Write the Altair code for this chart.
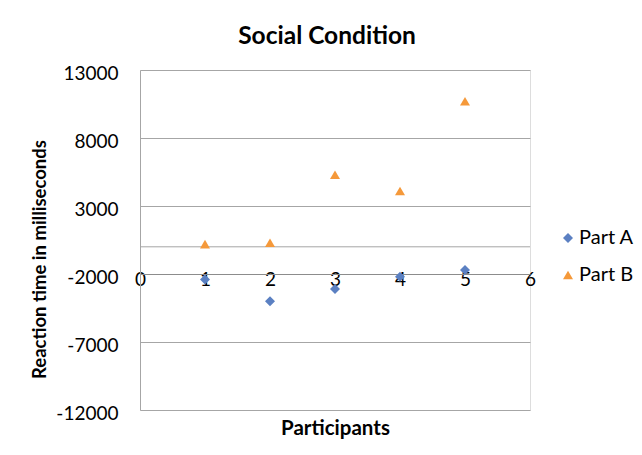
import altair as alt
import pandas as pd

participants = [1, 2, 3, 4, 5]
part_a = [-2400, -4000, -3100, -2200, -1700]
part_b = [200, 300, 5300, 4100, 10700]
series_names = ["Part A", "Part B"]
y_ticks = [-12000, -7000, -2000, 3000, 8000, 13000]
x_ticks = [0, 1, 2, 3, 4, 5, 6]

rows = []
for p, a, b in zip(participants, part_a, part_b):
    rows.append({"Participant": p, "Time": a, "Series": series_names[0]})
    rows.append({"Participant": p, "Time": b, "Series": series_names[1]})
df = pd.DataFrame(rows)
zero_df = pd.DataFrame({"Time": [0]})

W, H = 390, 340
FONT = "Lato"
y_dom = [-12000, 13000]
x_axis_offset = -H * ((-2000 - y_dom[0]) / (y_dom[1] - y_dom[0]))

x_scale = alt.Scale(domain=[0, 6], nice=False, zero=False)
y_scale = alt.Scale(domain=y_dom, nice=False, zero=False)

legend = alt.Legend(
    title=None,
    orient="none",
    legendX=418,
    legendY=158,
    labelFont=FONT,
    labelFontSize=20,
    labelColor="#000000",
    symbolSize=100,
    rowPadding=17,
    labelOffset=1,
)

zero_line = alt.Chart(zero_df).mark_rule(color="#a6a6a6", strokeWidth=1).encode(
    y=alt.Y("Time:Q", scale=y_scale)
)

points = alt.Chart(df).mark_point(filled=True, opacity=1, size=100).encode(
    x=alt.X(
        "Participant:Q",
        scale=x_scale,
        axis=alt.Axis(
            values=x_ticks,
            labelExpr="toString(datum.value)",
            orient="bottom",
            offset=x_axis_offset,
            grid=False,
            ticks=False,
            domainColor="#8c8c8c",
            labelFontSize=19,
            labelFont=FONT,
            labelColor="#000000",
            labelBaseline="middle",
            labelPadding=5,
            labelFlush=False,
            labelOverlap=False,
            title="Participants",
            titleFont=FONT,
            titleFontSize=20.5,
            titleFontWeight="bold",
            titleColor="#000000",
            titleBaseline="middle",
            titleY=154,
        ),
    ),
    y=alt.Y(
        "Time:Q",
        scale=y_scale,
        axis=alt.Axis(
            values=y_ticks,
            labelExpr="toString(datum.value)",
            grid=True,
            gridColor="#a6a6a6",
            ticks=False,
            domainColor="#a6a6a6",
            labelFontSize=19,
            labelFont=FONT,
            labelColor="#000000",
            labelPadding=22,
            labelOffset=3,
            labelFlush=False,
            title="Reaction time in milliseconds",
            titleFont=FONT,
            titleFontSize=18.5,
            titleFontWeight="bold",
            titleColor="#000000",
            titleBaseline="middle",
            titleX=-101,
            titleY=189,
        ),
    ),
    shape=alt.Shape(
        "Series:N",
        scale=alt.Scale(domain=series_names, range=["diamond", "triangle-up"]),
        legend=legend,
    ),
    color=alt.Color(
        "Series:N",
        scale=alt.Scale(domain=series_names, range=["#5b80c2", "#f5993a"]),
        legend=legend,
    ),
)

chart = alt.layer(zero_line, points).properties(
    width=W,
    height=H,
    title=alt.TitleParams(
        "Social Condition",
        font=FONT,
        fontSize=24.5,
        fontWeight="bold",
        color="#000000",
        anchor="middle",
        baseline="alphabetic",
        offset=25,
        dx=-8,
        dy=29,
    ),
    autosize=alt.AutoSizeParams(type="none"),
    padding={"left": 132, "top": 62, "right": 104, "bottom": 30},
).configure_view(stroke=None).configure(background="#ffffff")

chart.save("out.html", embed_options={"renderer": "svg", "actions": False})
